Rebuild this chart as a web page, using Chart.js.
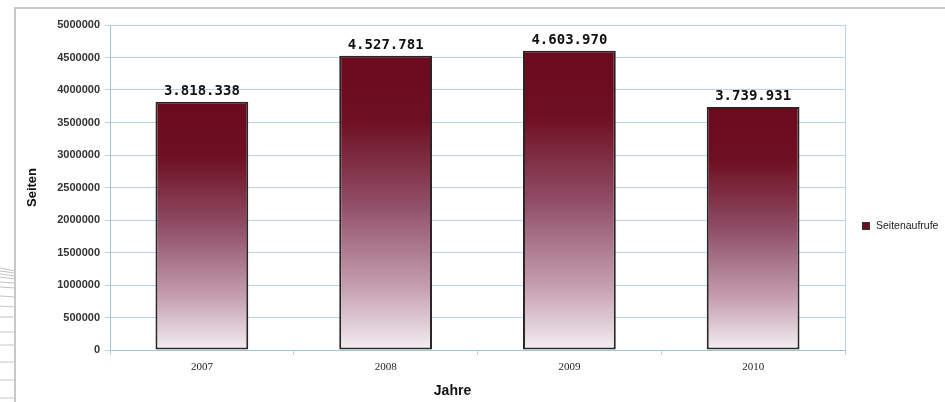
<!DOCTYPE html>
<html>
<head>
<meta charset="utf-8">
<script src="https://cdn.jsdelivr.net/npm/chart.js@4"></script>
<style>
  html, body { margin: 0; padding: 0; background: #fff; }
  #wrap { position: relative; width: 945px; height: 402px; overflow: hidden; }
  #frame { position: absolute; left: 14px; top: 7px; right: -2px; bottom: -2px;
           border-top: 2px solid #c8c8c8; border-left: 2px solid #c8c8c8; }
  #decor { position: absolute; left: 0; top: 0; }
  canvas { position: absolute; left: 0; top: 0; }
  #legend { position: absolute; left: 862px; top: 219px; white-space: nowrap;
            font: 10.5px 'Liberation Sans', sans-serif; color: #222; }
  #legend i { display: inline-block; width: 6px; height: 6px; background: #6d0b1f;
              border: 1px solid #333; margin-right: 6px; vertical-align: -1px; }
</style>
</head>
<body>
<div id="wrap">
  <svg id="decor" width="16" height="402">
    <g stroke="#c4c4c4" stroke-width="1">
      <line x1="0" y1="268" x2="15" y2="271"/>
      <line x1="0" y1="271" x2="15" y2="273"/>
      <line x1="0" y1="274" x2="15" y2="276"/>
      <line x1="0" y1="277" x2="15" y2="279"/>
      <line x1="0" y1="282" x2="15" y2="283"/>
      <line x1="0" y1="287" x2="15" y2="288"/>
      <line x1="0" y1="296" x2="15" y2="297"/>
      <line x1="0" y1="306" x2="15" y2="307"/>
      <line x1="0" y1="317" x2="15" y2="317"/>
      <line x1="0" y1="332" x2="15" y2="332"/>
      <line x1="0" y1="345" x2="15" y2="345"/>
      <line x1="0" y1="362" x2="15" y2="362"/>
      <line x1="0" y1="380" x2="15" y2="380"/>
      <line x1="0" y1="398" x2="15" y2="398"/>
    </g>
  </svg>
  <div id="frame"></div>
  <canvas id="myChart" width="945" height="402"></canvas>
  <div id="legend"><i></i><span id="legendText"></span></div>
</div>
<script>
const years = ['2007', '2008', '2009', '2010'];
const pageViews = [3818338, 4527781, 4603970, 3739931];
const yTicks = [0, 500000, 1000000, 1500000, 2000000, 2500000, 3000000, 3500000, 4000000, 4500000, 5000000];
const seriesName = 'Seitenaufrufe';
const yTitle = 'Seiten';
const xTitle = 'Jahre';

document.getElementById('legendText').textContent = seriesName;

const gridBlue = '#b4d6e8';

// 3818338 -> 3.818.338
function formatDe(v) {
    return String(v).replace(/\B(?=(\d{3})+(?!\d))/g, '.');
}

function barGradient(context) {
    const chart = context.chart;
    if (!chart.chartArea || context.type !== 'data') return '#6d0b1f';
    const yScale = chart.scales.y;
    const top = yScale.getPixelForValue(context.raw);
    const bottom = yScale.getPixelForValue(0);
    const g = chart.ctx.createLinearGradient(0, top, 0, bottom);
    g.addColorStop(0, '#6b0a1d');
    g.addColorStop(0.22, '#6f0f22');
    g.addColorStop(0.5, '#8f4d66');
    g.addColorStop(0.78, '#c49dae');
    g.addColorStop(1, '#f3eef1');
    return g;
}

const valueLabels = {
    id: 'valueLabels',
    afterDatasetsDraw(chart) {
        const ctx = chart.ctx;
        const meta = chart.getDatasetMeta(0);
        ctx.save();
        ctx.font = 'bold 14px "DejaVu Sans Mono", monospace';
        ctx.fillStyle = '#111';
        ctx.textAlign = 'center';
        ctx.textBaseline = 'alphabetic';
        meta.data.forEach((bar, i) => {
            ctx.fillText(formatDe(pageViews[i]), bar.x, bar.y - 7);
        });
        ctx.restore();
    }
};

const plotFrame = {
    id: 'plotFrame',
    afterDraw(chart) {
        const { ctx, chartArea } = chart;
        ctx.save();
        ctx.strokeStyle = gridBlue;
        ctx.lineWidth = 1;
        ctx.beginPath();
        ctx.moveTo(chartArea.right + 0.5, chartArea.top);
        ctx.lineTo(chartArea.right + 0.5, chartArea.bottom);
        ctx.stroke();
        // x axis title, drawn slightly left of centre like the original
        ctx.font = 'bold 14px "Liberation Sans", sans-serif';
        ctx.fillStyle = '#111';
        ctx.textAlign = 'center';
        ctx.textBaseline = 'middle';
        ctx.fillText(xTitle, chartArea.left + (chartArea.right - chartArea.left) * 0.466, 391);
        ctx.restore();
    }
};

const ctx = document.getElementById('myChart').getContext('2d');
new Chart(ctx, {
    type: 'bar',
    data: {
        labels: years,
        datasets: [{
            label: seriesName,
            data: pageViews,
            backgroundColor: barGradient,
            borderColor: '#2a2627',
            borderWidth: 2,
            borderSkipped: false,
            barPercentage: 0.505,
            categoryPercentage: 1
        }]
    },
    options: {
        responsive: false,
        animation: false,
        layout: { padding: { left: 0, top: 25, right: 100, bottom: 0 } },
        plugins: {
            legend: { display: false },
            tooltip: { enabled: false }
        },
        scales: {
            x: {
                afterFit(scale) { scale.height = 52; },
                grid: { drawOnChartArea: false, tickLength: 5, color: gridBlue, offset: true },
                border: { color: '#9fc3d6' },
                ticks: {
                    padding: 6,
                    color: '#222',
                    font: { family: '"Liberation Serif", serif', size: 11 }
                }
            },
            y: {
                min: 0,
                max: 5000000,
                afterFit(scale) { scale.width = 110; },
                afterBuildTicks(scale) { scale.ticks = yTicks.map(v => ({ value: v })); },
                grid: { color: gridBlue, tickLength: 5 },
                border: { color: '#9fc3d6' },
                ticks: {
                    padding: 5,
                    color: '#333',
                    font: { family: '"Liberation Sans", sans-serif', size: 11, weight: 'bold' },
                    callback: v => String(v)
                },
                title: {
                    display: true,
                    text: yTitle,
                    color: '#111',
                    font: { family: '"Liberation Sans", sans-serif', size: 13, weight: 'bold' },
                    padding: { top: 25, bottom: 0 }
                }
            }
        }
    },
    plugins: [valueLabels, plotFrame]
});
</script>
</body>
</html>
